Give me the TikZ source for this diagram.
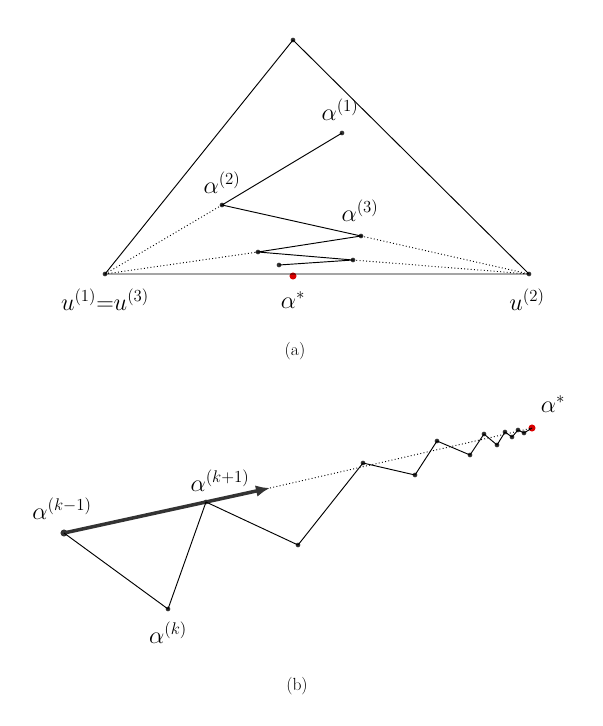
\documentclass[tikz,border=0pt]{standalone}
\usetikzlibrary{arrows.meta}
\begin{document}
\begin{tikzpicture}[x=0.03cm,y=-0.03cm,
 pt/.style={circle,fill=black!80,inner sep=0pt,minimum size=4pt},
 rpt/.style={circle,fill=red!85!black,inner sep=0pt,minimum size=6pt},
 lab/.style={font=\fontsize{22}{26}\selectfont},
 captext/.style={font=\fontsize{15}{18}\selectfont},
 dots/.style={dotted,line width=0.8pt},
 ln/.style={line width=0.8pt}]
\useasboundingbox (0,0) rectangle (602,726);
% (a)
\node[pt] (A) at (293,40) {};
\node[pt] (L) at (105,274) {};
\node[pt] (R) at (529,274) {};
\node[pt] (a1) at (342,133) {};
\node[pt] (a2) at (222,205) {};
\node[pt] (a3) at (361,236) {};
\node[pt] (a4) at (258,252) {};
\node[pt] (a5) at (353,260) {};
\node[pt] (a6) at (279,265) {};
\node[rpt] (as) at (293,276) {};
\draw[ln] (A.center) -- (L.center) -- (R.center) -- cycle;
\draw[ln] (a1.center) -- (a2.center) -- (a3.center) -- (a4.center) -- (a5.center) -- (a6.center);
\draw[dots] (L.center) -- (a2.center);
\draw[dots] (L.center) -- (a4.center);
\draw[dots] (a3.center) -- (R.center);
\draw[dots] (a5.center) -- (R.center);
\node[lab] (l1) at (340,110) {$\alpha^{(1)}$};
\node[lab] (l2) at (222,183) {$\alpha^{(2)}$};
\node[lab] (l3) at (360,211) {$\alpha^{(3)}$};
\node[lab] (lu1) at (105,300) {$u^{(1)}{=}u^{(3)}$};
\node[lab] (las) at (293,300) {$\alpha^{*}$};
\node[lab] (lu2) at (527,300) {$u^{(2)}$};
\node[captext] (ca) at (295,351) {(a)};
% (b)
\node[circle,fill=black!80,inner sep=0pt,minimum size=6pt] (b0) at (64,533) {};
\node[pt] (b1) at (168,609) {};
\node[pt] (b2) at (206,502) {};
\coordinate (tip) at (270,488);
\node[pt] (b3) at (298,545) {};
\node[pt] (b4) at (363,463) {};
\node[pt] (b5) at (415,475) {};
\node[pt] (b6) at (437,441) {};
\node[pt] (b7) at (470,455) {};
\node[pt] (b8) at (484,434) {};
\node[pt] (b9) at (497,445) {};
\node[pt] (b10) at (505,432) {};
\node[pt] (b11) at (512,437) {};
\node[pt] (b12) at (518,430) {};
\node[pt] (b13) at (524,433) {};
\node[rpt] (bs) at (532,428) {};
\draw[line width=3pt,-{Latex[length=12pt,width=10pt]},black!80] (b0.center) -- (tip);
\draw[dots] (tip) -- (bs.center);
\draw[ln] (b0.center) -- (b1.center) -- (b2.center) -- (b3.center) -- (b4.center) -- (b5.center) -- (b6.center) -- (b7.center) -- (b8.center) -- (b9.center) -- (b10.center) -- (b11.center) -- (b12.center) -- (b13.center) -- (bs.center);
\node[lab] (lk0) at (62,509) {$\alpha^{(k-1)}$};
\node[lab] (lk2) at (220,481) {$\alpha^{(k+1)}$};
\node[lab] (lk1) at (168,633) {$\alpha^{(k)}$};
\node[lab] (lbs) at (553,404) {$\alpha^{*}$};
\node[captext] (cb) at (297,686) {(b)};
\end{tikzpicture}
\end{document}
